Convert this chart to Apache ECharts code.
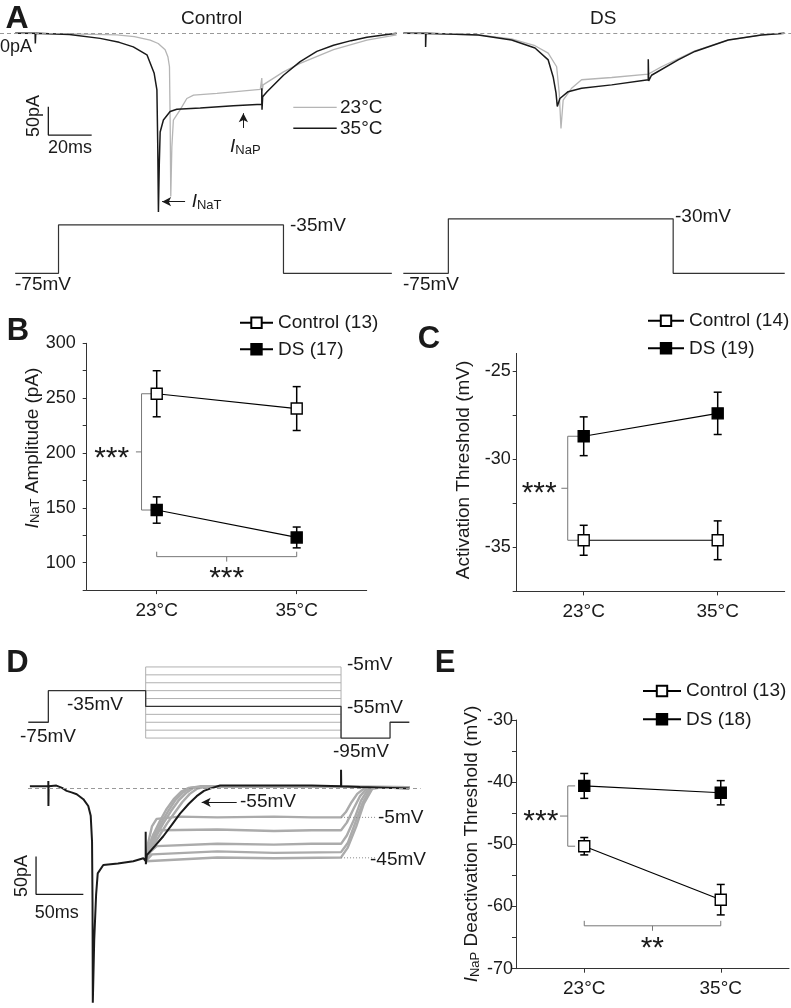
<!DOCTYPE html>
<html><head><meta charset="utf-8">
<script src="https://cdn.jsdelivr.net/npm/echarts@6/dist/echarts.min.js"></script>
<style>html,body{margin:0;padding:0;background:#fff}#c{width:791px;height:1008px}</style>
</head><body><div id="c"></div>
<script>
// ---------- Panel A: current traces (time ms, current pA) ----------
const aControl35 = [[0,0],[9.2,0],[9.2,3],[9.3,-18],[9.5,0],[25,-2],[39.2,-9],[48,-16],[54.5,-24],[60.8,-38],[64.1,-70],[65.4,-100],[65.8,-200],[66.1,-315],[66.5,-230],[66.9,-174],[68.4,-153],[71.5,-138],[74.6,-134],[85.4,-132],[100.7,-128],[113.8,-125],[113.8,-97],[113.9,-135],[114.2,-112],[116.2,-103],[123.8,-74],[131.5,-50],[139.2,-32],[146.9,-21],[155,-13],[162.3,-7],[170,-3],[176,0]];
const aControl23 = [[0,0],[25,-1],[46.9,-3],[55,-6],[62.3,-12],[66,-18],[69.2,-29],[70.5,-42],[71.2,-59],[71.5,-150],[71.8,-288],[72.3,-200],[73,-153],[76.1,-135],[79.2,-115],[82.3,-109],[93.1,-106],[113.1,-99],[113.8,-79],[114,-101],[114.4,-91],[123.8,-68],[131.5,-53],[146.9,-29],[162.3,-12],[176,-3]];
const aDS35 = [[0,0],[10.3,0],[10.3,-24],[10.5,0],[34.6,-3],[50,-12],[60.8,-26],[66.9,-47],[69.2,-77],[70.5,-105],[71.1,-129],[72.3,-115],[76.1,-103],[82.3,-97],[96.2,-91],[113.1,-82],[113.1,-46],[113.3,-84],[114.6,-74],[126.9,-47],[134.6,-32],[150,-12],[165.4,-3],[176,0]];
const aDS23 = [[0,0],[34.6,-3],[50,-10],[60.8,-22],[66.9,-35],[70.8,-59],[72,-106],[72.8,-168],[73.8,-118],[77.7,-97],[82.3,-82],[96.2,-78],[113.1,-72],[119.2,-59],[126.9,-45],[134.6,-31],[150,-12],[165.4,-3],[176,0]];
// Panel A: voltage protocols (time ms, mV)
const aControlStep = [[0,-75],[20,-75],[20,-35],[123.8,-35],[123.8,-75],[173.8,-75]];
const aDSStep = [[0,-75],[20.8,-75],[20.8,-30],[124.6,-30],[124.6,-75],[176.1,-75]];

// ---------- Panels B, C, E: mean and SEM at two temperatures ----------
const temps = [23, 35];
const tempLabels = ['23°C', '35°C'];
const bControlMean = [254, 240.5], bControlSem = [21, 20];
const bDSMean = [148, 123], bDSSem = [12, 9.5];
const cControlMean = [-34.6, -34.6], cControlSem = [0.85, 1.1];
const cDSMean = [-28.7, -27.4], cDSSem = [1.1, 1.2];
const eControlMean = [-50.3, -58.9], eControlSem = [1.4, 2.45];
const eDSMean = [-40.6, -41.7], eDSSem = [2.0, 1.95];
const bTicks = [75,100,125,150,175,200,225,250,275,300];
const cTicks = [-37.5,-35,-32.5,-30,-27.5,-25];
const eTicks = [-70,-65,-60,-55,-50,-45,-40,-35,-30];

// ---------- Panel D: voltage protocol (ms, mV) ----------
const dStep = [[0.3,-75],[21.5,-75],[21.5,-35],[124.4,-35],[124.4,-55],[330.9,-55],[330.9,-95],[382.7,-95],[382.7,-75],[403.1,-75]];
const dFamilyLevels = [-5,-15,-25,-35,-45,-55,-65,-75,-85,-95];
const dFamilyT = [124.4, 330.9];
// Panel D: current traces (ms, pA)
const dTrace55 = [[2,3],[10,3],[21.5,3],[21.5,10],[21.6,-23],[21.8,3],[30,4],[36,1],[40.9,-3],[46,-5],[51.5,-7.4],[58.5,-14],[63.7,-23],[66.3,-36],[67.7,-70],[68.2,-150],[68.5,-283],[70,-200],[72,-140],[73.7,-112],[79.6,-101],[95,-99],[111.3,-96],[121.9,-92],[124.4,-96],[124.4,-57],[124.6,-100],[125.6,-88],[134,-76],[143,-63],[152,-48],[160.7,-33],[170,-20],[178.3,-10],[186,-3],[192.4,0],[203,4],[250,4],[300,4],[330.9,3],[330.9,25],[331.1,3],[351,2],[403.1,0]];
const dTraceM5 = [[124.4,-96],[127,-72],[131,-50],[136,-40],[160,-37],[200,-38],[260,-37],[300,-38],[330.9,-38],[336,-31],[342,-18],[348,-7],[355,0],[370,2],[403.1,2]];
const dTraceM15 = [[124.4,-96],[128,-76],[133,-60],[140,-55],[200,-54],[260,-56],[300,-55],[330.9,-55],[337,-45],[344,-27],[351,-10],[358,0],[372,2],[403.1,2]];
const dTraceM25 = [[124.4,-96],[129,-84],[136,-76],[200,-73],[260,-74],[300,-73],[330.9,-73],[337,-62],[345,-40],[352,-16],[360,0],[374,2],[403.1,2]];
const dTraceM35 = [[124.4,-96],[131,-87],[200,-83],[260,-85],[330.9,-84],[338,-72],[346,-45],[354,-18],[362,0],[376,2],[403.1,2]];
const dTraceM45 = [[124.4,-96],[200,-91],[260,-92],[330.9,-91],[338,-78],[347,-50],[355,-20],[364,0],[378,2],[403.1,2]];
const dTraceM65 = [[124.4,-96],[131,-78],[139,-62],[147,-46],[155,-32],[163,-18],[171,-7],[179,0],[190,3],[403.1,2]];
const dTraceM75 = [[124.4,-96],[129,-80],[136,-62],[143,-46],[151,-30],[159,-16],[167,-6],[175,1],[186,3],[403.1,2]];
const dTraceM85 = [[124.4,-96],[128,-80],[134,-62],[141,-45],[148,-30],[156,-15],[164,-5],[172,1],[184,3],[403.1,2]];
const dTraceM95 = [[124.4,-96],[127,-80],[132,-62],[139,-44],[146,-28],[154,-14],[162,-4],[170,1],[182,3],[403.1,2]];

// ---------- build chart ----------
const FONT = '"Liberation Sans", Arial, Helvetica, sans-serif';
const INK = '#1a1a1a';
const GRAY_TRACE = '#ababab';
const chart = echarts.init(document.getElementById('c'), null, {renderer:'canvas'});

const grids = [
  {left:0, top:27.6, width:396.6, height:192.8},     // 0 A control current
  {left:403.3, top:27.6, width:387.9, height:192.8}, // 1 A DS current
  {left:0, top:212.8, width:396.6, height:72.6},     // 2 A control voltage
  {left:403.3, top:212.8, width:387.9, height:72.6}, // 3 A DS voltage
  {left:86.7, top:343.3, width:280, height:246.8},   // 4 B
  {left:516.7, top:353.4, width:268, height:238},    // 5 C
  {left:28, top:663, width:392.6, height:79},        // 6 D voltage
  {left:28, top:743.2, width:392.6, height:268.8},   // 7 D current
  {left:516, top:720, width:273, height:248.7}       // 8 E
];
const hid = (gi, min, max) => ({type:'value', gridIndex:gi, min, max, show:false});
const tempAxis = gi => ({type:'value', gridIndex:gi, min:17, max:41, interval:6,
  axisLine:{onZero:false, lineStyle:{color:'#333', width:1}},
  axisTick:{length:4, customValues:temps, lineStyle:{color:'#333'}}, splitLine:{show:false},
  axisLabel:{customValues:temps, formatter:v => { const i = temps.indexOf(v); return i >= 0 ? tempLabels[i] : ''; },
    fontSize:19, color:INK, fontFamily:FONT, margin:11}});
const valAxis = (gi, min, max, interval, labelStep, margin, ticks) => ({type:'value', gridIndex:gi, min, max, interval,
  axisLine:{show:true, onZero:false, lineStyle:{color:'#333', width:1}},
  axisTick:{show:true, length:4, customValues:ticks, lineStyle:{color:'#333'}}, splitLine:{show:false},
  axisLabel:{customValues:ticks.filter(v => Math.abs(v % labelStep) < 1e-9),
    formatter:v => Math.abs(v % labelStep) < 1e-9 ? String(v) : '', fontSize:18, color:INK, fontFamily:FONT, margin}});

const xAxes = [hid(0,-7,176), hid(1,0,179), hid(2,-7,176), hid(3,0,179), tempAxis(4), tempAxis(5), hid(6,0,415), hid(7,0,415), tempAxis(8)];
const yAxes = [hid(0,-330,10), hid(1,-330,10), hid(2,-85,-25), hid(3,-85,-25),
  valAxis(4,75,300,25,50,11,bTicks), valAxis(5,-37.5,-24,2.5,5,6,cTicks), hid(6,-100,0), hid(7,-290,60), valAxis(8,-70,-30,5,10,3,eTicks)];

const baseLine = {silent:true, symbol:['none','none'], label:{show:false},
  lineStyle:{color:'#999', type:[4,3], width:1}, data:[{yAxis:0}]};
const arrowLine = pairs => ({silent:true, symbol:['none','arrow'], symbolSize:[7,9], label:{show:false},
  itemStyle:{color:INK}, lineStyle:{color:INK, type:'solid', width:1},
  data:pairs.map(p => [{coord:p[0]}, {coord:p[1]}])});
const trace = (gi, data, color, width, extra) => Object.assign({type:'line', xAxisIndex:gi, yAxisIndex:gi, data,
  symbol:'none', silent:true, animation:false, lineStyle:{color, width}, z:2}, extra || {});

const series = [];
// A
series.push(trace(0, aControl23, '#b5b5b5', 1.3, {markLine:baseLine}));
series.push(trace(0, aControl35, INK, 1.5, {z:3, markLine:arrowLine([[[105.3,-167],[105.3,-141]], [[78.4,-297],[67.8,-297]]])}));
series.push(trace(0, [[15.3,-129.5],[15.3,-179.5],[35.3,-179.5]], INK, 1.3));   // scale bar 50 pA / 20 ms
series.push(trace(1, aDS23, '#b5b5b5', 1.3, {markLine:baseLine}));
series.push(trace(1, aDS35, INK, 1.5, {z:3}));
series.push(trace(2, aControlStep, '#333', 1.2));
series.push(trace(3, aDSStep, '#333', 1.2));

// B, C, E helpers
function errRender(params, api) {
  const x = api.value(0);
  const p1 = api.coord([x, api.value(1)]), p2 = api.coord([x, api.value(2)]);
  const w = 4, st = {stroke:'#000', lineWidth:1.5};
  return {type:'group', children:[
    {type:'line', shape:{x1:p1[0], y1:p1[1], x2:p2[0], y2:p2[1]}, style:st},
    {type:'line', shape:{x1:p1[0]-w, y1:p1[1], x2:p1[0]+w, y2:p1[1]}, style:st},
    {type:'line', shape:{x1:p2[0]-w, y1:p2[1], x2:p2[0]+w, y2:p2[1]}, style:st}]};
}
function groupSeries(gi, name, mean, sem, filled) {
  series.push({type:'custom', xAxisIndex:gi, yAxisIndex:gi, silent:true, z:1,
    data:temps.map((t,i) => [t, mean[i]-sem[i], mean[i]+sem[i]]), renderItem:errRender});
  series.push({type:'line', name, xAxisIndex:gi, yAxisIndex:gi, z:3, silent:true,
    data:temps.map((t,i) => [t, mean[i]]), symbol:'rect', symbolSize:11,
    itemStyle:{color:filled ? '#000' : '#fff', borderColor:'#000', borderWidth:1.4},
    lineStyle:{color:'#000', width:1.2}});
}
function bracket(gi, pts) {
  series.push({type:'line', xAxisIndex:gi, yAxisIndex:gi, data:pts, symbol:'none', silent:true, z:1,
    lineStyle:{color:'#777', width:1}});
}
function sideBracket(gi, yTop, yBot, xb, xEnd, xMid) {
  bracket(gi, [[xEnd, yTop],[xb, yTop],[xb, yBot],[xEnd, yBot]]);
  const m = (yTop + yBot) / 2;
  bracket(gi, [[xb, m],[xMid, m]]);
}
function bottomBracket(gi, y, yEnd, yMid) {
  bracket(gi, [[temps[0], yEnd],[temps[0], y],[temps[1], y],[temps[1], yEnd]]);
  const m = (temps[0] + temps[1]) / 2;
  bracket(gi, [[m, y],[m, yMid]]);
}
// B
groupSeries(4, 'Control (13)', bControlMean, bControlSem, false);
groupSeries(4, 'DS (17)', bDSMean, bDSSem, true);
sideBracket(4, bControlMean[0], bDSMean[0], 21.7, 22.57, 21.22);
bottomBracket(4, 105.5, 110, 101);
// C
groupSeries(5, 'Control (14)', cControlMean, cControlSem, false);
groupSeries(5, 'DS (19)', cDSMean, cDSSem, true);
sideBracket(5, cDSMean[0], cControlMean[0], 21.57, 22.5, 21.0);
// E
groupSeries(8, 'Control (13)', eControlMean, eControlSem, false);
groupSeries(8, 'DS (18)', eDSMean, eDSSem, true);
sideBracket(8, eDSMean[0], eControlMean[0], 21.55, 22.2, 20.87);
bottomBracket(8, -63.1, -62.3, -63.9);

// D voltage protocol
dFamilyLevels.forEach(v => { if (v !== -55) series.push(trace(6, dFamilyT.map(t => [t, v]), '#b0b0b0', 1)); });
dFamilyT.forEach(t => series.push(trace(6, [[t, dFamilyLevels[0]], [t, dFamilyLevels[dFamilyLevels.length-1]]], '#b0b0b0', 1)));
series.push(trace(6, dStep, '#333', 1.3, {z:3}));
// D currents
[dTraceM95, dTraceM85, dTraceM75, dTraceM65, dTraceM45, dTraceM35, dTraceM25, dTraceM15, dTraceM5].forEach((d, i) =>
  series.push(trace(7, d, GRAY_TRACE, 2.4, i === 0 ? {markLine:baseLine} : {})));
series.push(trace(7, dTrace55, INK, 2, {z:3, markLine:arrowLine([[[220.6,-18.2],[183.6,-18.2]]])}));
series.push(trace(7, [[8.5,-89.8],[8.5,-139.8],[58.5,-139.8]], INK, 1.3));   // scale bar 50 pA / 50 ms
series.push(trace(7, [[330.9,-38],[368.6,-38]], '#888', 1, {lineStyle:{color:'#888', width:1, type:[1,2]}}));
series.push(trace(7, [[330.9,-91.5],[368.6,-91.5]], '#888', 1, {lineStyle:{color:'#888', width:1, type:[1,2]}}));

// legends
const legendBase = (left, top, gap, w, data) => ({left, top, orient:'vertical', padding:0, itemGap:gap,
  itemWidth:w, itemHeight:13, selectedMode:false, data,
  textStyle:{fontSize:19, fontFamily:FONT, color:INK, lineHeight:20}});

// text annotations
const T = (text, x, y, o) => {
  o = o || {};
  return {type:'text', x, y, rotation:o.rot || 0, silent:true, z:100,
    style:Object.assign({text, fill:INK, fontSize:o.size || 19, fontFamily:FONT, fontWeight:o.bold ? 'bold' : 'normal',
      align:o.align || 'left', verticalAlign:'middle', textAlign:o.align || 'left', textVerticalAlign:'middle'}, o.style || {})};
};
const sub = (main, s) => ({text:'{i|' + main + '}{s|' + s + '}', rich:{
  i:{fontStyle:'italic', fontSize:19, fontFamily:FONT, fill:INK, lineHeight:20, verticalAlign:'bottom'},
  s:{fontSize:13, fontFamily:FONT, fill:INK, lineHeight:15, verticalAlign:'bottom'},
  n:{fontSize:19, fontFamily:FONT, fill:INK, lineHeight:20, verticalAlign:'bottom'}}});
const STAR = 30, STAR_DY = 7;
const graphic = [
  T('A', 17, 19, {bold:true, size:32, align:'center'}),
  T('Control', 211.7, 18.3, {align:'center'}),
  T('DS', 603.3, 18.3, {align:'center'}),
  T('0pA', 0, 47.5, {size:18}),
  T('50pA', 34, 116, {size:18, align:'center', rot:Math.PI/2}),
  T('20ms', 70, 148, {size:18, align:'center'}),
  {type:'line', silent:true, shape:{x1:293.3, y1:107.3, x2:336.7, y2:107.3}, style:{stroke:'#b5b5b5', lineWidth:1.3}},
  {type:'line', silent:true, shape:{x1:293.3, y1:128.3, x2:336.7, y2:128.3}, style:{stroke:INK, lineWidth:1.4}},
  T('23°C', 340, 107.3),
  T('35°C', 340, 128.3),
  T('', 230, 146.7, {style:sub('I', 'NaP')}),
  T('', 191.7, 201.7, {style:sub('I', 'NaT')}),
  T('-35mV', 290, 226),
  T('-75mV', 15, 285),
  T('-30mV', 675, 217),
  T('-75mV', 403, 285),
  T('B', 18, 331, {bold:true, size:31, align:'center'}),
  T('', 32, 448, {align:'center', rot:Math.PI/2, style:{text:'{i|I}{s|NaT}{n| Amplitude (pA)}', rich:sub('I','NaT').rich}}),
  T('***', 111.7, 451.7 + STAR_DY, {size:STAR, align:'center'}),
  T('***', 226.7, 571.7 + STAR_DY, {size:STAR, align:'center'}),
  T('C', 429, 339, {bold:true, size:31, align:'center'}),
  T('Activation Threshold (mV)', 463.3, 470, {align:'center', rot:Math.PI/2}),
  T('***', 539.2, 486.7 + STAR_DY, {size:STAR, align:'center'}),
  T('D', 17.5, 663.5, {bold:true, size:31, align:'center'}),
  T('-75mV', 20, 736.7),
  T('-35mV', 67, 705),
  T('-5mV', 347, 665),
  T('-55mV', 347, 707.3),
  T('-95mV', 333, 751.7),
  T('-55mV', 240, 801.7),
  T('-5mV', 378, 818),
  T('-45mV', 370, 860),
  T('50pA', 22.5, 876, {size:18, align:'center', rot:Math.PI/2}),
  T('50ms', 56.7, 913.3, {size:18, align:'center'}),
  T('E', 445, 663.5, {bold:true, size:31, align:'center'}),
  T('', 471.7, 844, {align:'center', rot:Math.PI/2, style:{text:'{i|I}{s|NaP}{n| Deactivation Threshold (mV)}', rich:sub('I','NaP').rich}}),
  T('***', 540.8, 814.3 + STAR_DY, {size:STAR, align:'center'}),
  T('**', 652.3, 941.7 + STAR_DY, {size:STAR, align:'center'})
];

chart.setOption({
  animation:false,
  backgroundColor:'#fff',
  textStyle:{fontFamily:FONT},
  grid:grids, xAxis:xAxes, yAxis:yAxes, series,
  legend:[
    legendBase(239, 312.7, 6.6, 33, ['Control (13)', 'DS (17)']),
    legendBase(647, 310.7, 7.6, 36, ['Control (14)', 'DS (19)']),
    legendBase(642, 681, 8.3, 38, ['Control (13)', 'DS (18)'])
  ],
  graphic
});
</script></body></html>
